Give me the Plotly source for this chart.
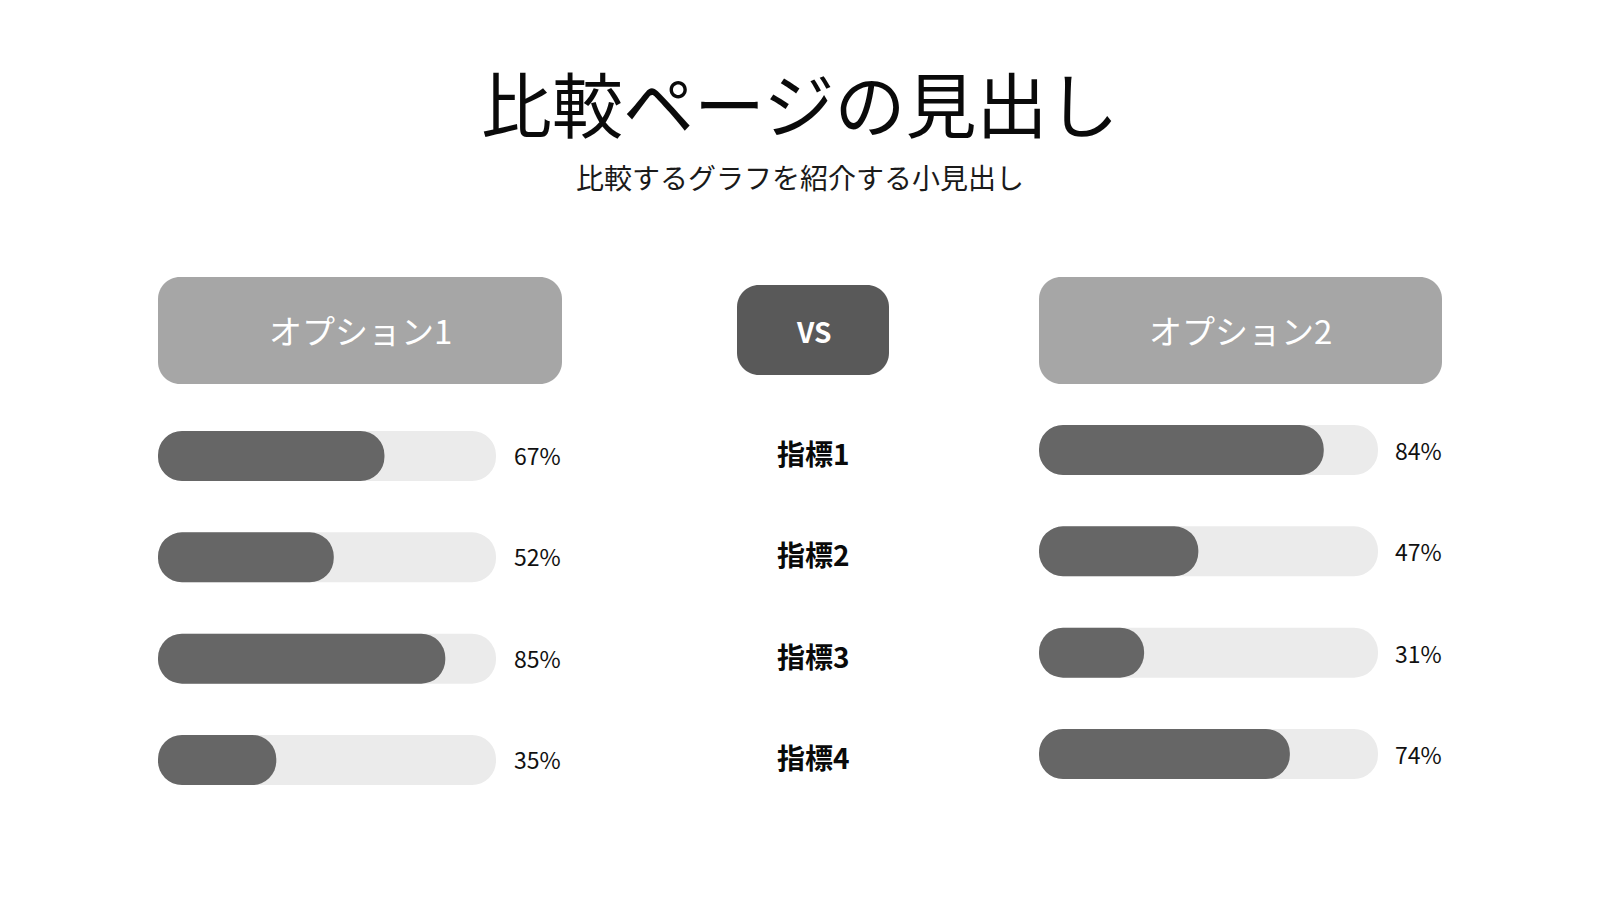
import plotly.graph_objects as go

# ---- data ----
metrics = ["指標1", "指標2", "指標3", "指標4"]
option1_values = [67, 52, 85, 35]
option2_values = [84, 47, 31, 74]
option_names = ["オプション1", "オプション2"]
vs_label = "VS"
title_text = "比較ページの見出し"
subtitle_text = "比較するグラフを紹介する小見出し"
full_scale = [100, 100, 100, 100]

# page body has an 8px margin: figure fills the rest of the 1600x900 window
OFF = 8
W, H = 1600 - OFF, 900 - OFF
FONT = "Noto Sans CJK JP"
FILL = "#666666"
TRACK = "#ebebeb"
HEAD = "#a6a6a6"
VS_COL = "#595959"

fig = go.Figure()


def px(x):
    return (x - OFF) / W


def py(y):
    return 1 - (y - OFF) / H


def capsule(values, xa, ya, color):
    fig.add_trace(go.Bar(
        orientation="h", y=metrics, x=values, base=[0] * len(values),
        xaxis=xa, yaxis=ya,
        marker=dict(color=color, line=dict(width=0), cornerradius="50%"),
        width=0.493, showlegend=False, hoverinfo="skip"))


capsule(full_scale, "x", "y", TRACK)
capsule(option1_values, "x", "y", FILL)
capsule(full_scale, "x2", "y2", TRACK)
capsule(option2_values, "x2", "y2", FILL)

axis_common = dict(showgrid=False, zeroline=False, showticklabels=False,
                   showline=False, ticks="", fixedrange=True)
fig.update_layout(
    xaxis=dict(domain=[px(158), px(496)], range=[0, 100], **axis_common),
    yaxis=dict(domain=[py(810.7), py(405.3)], type="category",
               categoryorder="array", categoryarray=metrics,
               range=[3.5, -0.5], **axis_common),
    xaxis2=dict(domain=[px(1039), px(1378)], range=[0, 100], anchor="y2",
                **axis_common),
    yaxis2=dict(domain=[py(804.7), py(399.3)], type="category",
                categoryorder="array", categoryarray=metrics,
                range=[3.5, -0.5], anchor="x2", **axis_common),
)


def rounded_box(x0, y0, x1, y1, r, color):
    k = 0.5523 * r
    X = lambda v: px(v)
    Y = lambda v: py(v)
    path = (
        f"M {X(x0 + r)},{Y(y0)} L {X(x1 - r)},{Y(y0)} "
        f"C {X(x1 - r + k)},{Y(y0)} {X(x1)},{Y(y0 + r - k)} {X(x1)},{Y(y0 + r)} "
        f"L {X(x1)},{Y(y1 - r)} "
        f"C {X(x1)},{Y(y1 - r + k)} {X(x1 - r + k)},{Y(y1)} {X(x1 - r)},{Y(y1)} "
        f"L {X(x0 + r)},{Y(y1)} "
        f"C {X(x0 + r - k)},{Y(y1)} {X(x0)},{Y(y1 - r + k)} {X(x0)},{Y(y1 - r)} "
        f"L {X(x0)},{Y(y0 + r)} "
        f"C {X(x0)},{Y(y0 + r - k)} {X(x0 + r - k)},{Y(y0)} {X(x0 + r)},{Y(y0)} Z"
    )
    fig.add_shape(type="path", path=path, xref="paper", yref="paper",
                  fillcolor=color, line=dict(width=0), layer="below")


rounded_box(158, 277, 562, 384, 22, HEAD)
rounded_box(1039, 277, 1442, 384, 22, HEAD)
rounded_box(737, 285, 889, 375, 22, VS_COL)

ann = []
ann.append(dict(x=px(800), y=py(101), xref="paper", yref="paper", text=title_text,
                showarrow=False, font=dict(family=FONT, size=71, color="#0a0a0a"),
                xanchor="center", yanchor="middle"))
ann.append(dict(x=px(800), y=py(177), xref="paper", yref="paper", text=subtitle_text,
                showarrow=False, font=dict(family=FONT, size=28, color="#1a1a1a"),
                xanchor="center", yanchor="middle"))
ann.append(dict(x=px(360), y=py(330), xref="paper", yref="paper", text=option_names[0],
                showarrow=False, font=dict(family=FONT, size=33, color="white"),
                xanchor="center", yanchor="middle"))
ann.append(dict(x=px(1240.5), y=py(330), xref="paper", yref="paper", text=option_names[1],
                showarrow=False, font=dict(family=FONT, size=33, color="white"),
                xanchor="center", yanchor="middle"))
ann.append(dict(x=px(813), y=py(331), xref="paper", yref="paper",
                text=f"<b>{vs_label}</b>", showarrow=False,
                font=dict(family=FONT, size=28, color="white"),
                xanchor="center", yanchor="middle"))
for m, v1, v2 in zip(metrics, option1_values, option2_values):
    ann.append(dict(x=px(813), y=m, xref="paper", yref="y", text=f"<b>{m}</b>",
                    showarrow=False, font=dict(family=FONT, size=28, color="#0a0a0a"),
                    xanchor="center", yanchor="middle", yshift=3))
    ann.append(dict(x=px(512), y=m, xref="paper", yref="y", text=f"{v1}%",
                    showarrow=False, font=dict(family=FONT, size=23, color="#111111"),
                    xanchor="left", yanchor="middle", yshift=1))
    ann.append(dict(x=px(1393), y=m, xref="paper", yref="y2", text=f"{v2}%",
                    showarrow=False, font=dict(family=FONT, size=23, color="#111111"),
                    xanchor="left", yanchor="middle"))

fig.update_layout(
    width=W, height=H, margin=dict(l=0, r=0, t=0, b=0),
    paper_bgcolor="white", plot_bgcolor="white",
    barmode="overlay", annotations=ann, showlegend=False,
    font=dict(family=FONT),
)

fig.write_html("out.html", config={"displayModeBar": False})
